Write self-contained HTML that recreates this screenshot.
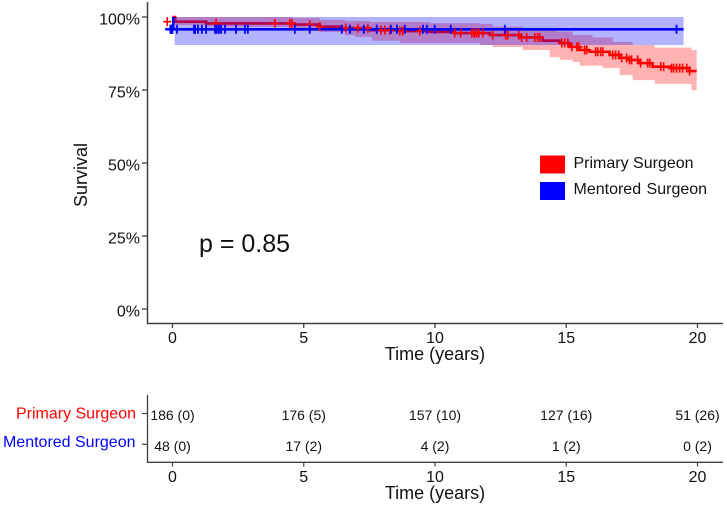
<!DOCTYPE html>
<html>
<head>
<meta charset="utf-8">
<title>Survival chart</title>
<style>
html,body{margin:0;padding:0;background:#fff;width:727px;height:505px;overflow:hidden}
svg{display:block}
text{font-family:"Liberation Sans",sans-serif;fill:#111}
</style>
</head>
<body>
<svg id="chart" width="727" height="505" viewBox="0 0 727 505" xmlns="http://www.w3.org/2000/svg"></svg>
<script>
// ---- Data ----
const xTicks = [0, 5, 10, 15, 20];
const yTicks = [0, 25, 50, 75, 100];
const primaryLabel = "Primary Surgeon";
const mentoredLabel = "Mentored Surgeon";
const pValueLabel = "p = 0.85";

const primaryTimes = [0, 0.1, 1.28, 4.66, 5.61, 6.38, 7.52, 8.66, 9.8, 10.75, 12.09, 13.23, 14.1, 14.75, 15.13, 15.51, 15.89, 16.65, 17.03, 17.41, 17.8, 18.29, 18.94, 19.7, 19.97];
const primarySurvival = [100, 98.4, 97.8, 97.4, 96.7, 96.2, 95.5, 95.2, 94.9, 94.5, 93.8, 93, 91.9, 91.1, 89.8, 88.7, 88.1, 87, 86, 85.3, 84.2, 83, 82.5, 81.5, 81.5];

const primaryBandTimes = [0.1, 1.28, 4.59, 5.61, 6.57, 6.95, 7.52, 7.6, 8.66, 9.8, 11.71, 12.2, 13.34, 14.37, 14.64, 14.75, 15.24, 15.51, 16, 16.39, 16.77, 17.03, 17.53, 18.37, 19.77, 19.97];
const primaryBandUpper = [100, 100, 99.7, 99, 98.6, 98.6, 98.3, 98.3, 98.3, 97.9, 97.6, 96.7, 95.9, 95.9, 95, 95, 93.8, 93.8, 93, 93, 91.5, 91.5, 90.4, 89.5, 88.7, 88.7];
const primaryBandLower = [97.3, 96.6, 96.2, 94.9, 93.8, 93.2, 93.2, 91.9, 91.1, 91.1, 90.4, 89.7, 88.7, 86.3, 86.3, 85.3, 84.6, 83.3, 83.3, 82.5, 82.5, 80.1, 78.4, 77.1, 75, 75];

const primaryCensorTimes = [-0.2, 1.66, 3.9, 4.47, 4.55, 5.23, 5.61, 6.6, 7.06, 7.44, 7.94, 8.09, 8.28, 8.66, 8.77, 9.42, 10.75, 10.98, 11.4, 11.48, 11.51, 11.59, 11.67, 11.82, 12.2, 12.69, 12.77, 13.19, 13.3, 13.49, 13.8, 13.91, 13.99, 14.83, 14.94, 15.06, 15.21, 15.4, 15.47, 15.7, 15.78, 16.12, 16.2, 16.31, 16.39, 16.77, 16.88, 17, 17.11, 17.3, 17.41, 17.49, 17.72, 17.83, 18.1, 18.18, 18.6, 18.71, 19.01, 19.09, 19.2, 19.32, 19.43, 19.59, 19.7];

const mentoredTimes = [0.03, 0.03, 19.47];
const mentoredSurvival = [100, 95.8, 95.8];
const mentoredBandTimes = [0.08, 19.47];
const mentoredBandUpper = [100, 100];
const mentoredBandLower = [90.4, 90.4];
const mentoredCensorTimes = [-0.08, -0.06, -0.04, -0.02, 0, 0.17, 0.82, 0.86, 0.97, 1.12, 1.28, 1.62, 1.69, 1.77, 1.85, 2, 2.42, 2.76, 2.87, 4.66, 5.23, 6.45, 6.76, 7.29, 7.78, 8.32, 8.55, 8.85, 9.54, 9.69, 9.99, 10.6, 12.66, 19.2];

const primaryAtRisk = ["186 (0)", "176 (5)", "157 (10)", "127 (16)", "51 (26)"];
const mentoredAtRisk = ["48 (0)", "17 (2)", "4 (2)", "1 (2)", "0 (2)"];

// ---- Axis functions ----
const xScale = t => 172.5 + t * 26.25;
const yScale = s => 309 - s * 2.92;

const NS = "http://www.w3.org/2000/svg";
const svg = document.getElementById("chart");
function make(tag, attrs, text) {
  const el = document.createElementNS(NS, tag);
  for (const k in attrs) el.setAttribute(k, attrs[k]);
  if (text !== undefined) el.textContent = text;
  svg.appendChild(el);
  return el;
}
function stepPath(times, values) {
  let d = "M" + xScale(times[0]) + " " + yScale(values[0]);
  for (let i = 1; i < times.length; i++) {
    d += "H" + xScale(times[i]) + "V" + yScale(values[i]);
  }
  return d;
}
function bandPath(times, upper, lower) {
  const n = times.length;
  let d = "M" + xScale(times[0]) + " " + yScale(upper[0]);
  for (let i = 1; i < n - 1; i++) {
    d += "H" + xScale(times[i]) + "V" + yScale(upper[i]);
  }
  d += "H" + xScale(times[n - 1]);
  for (let i = n - 2; i >= 0; i--) {
    d += "V" + yScale(lower[i]) + "H" + xScale(times[i]);
  }
  d += "Z";
  return d;
}
function survivalAt(times, values, t) {
  let s = values[0];
  for (let i = 0; i < times.length; i++) {
    if (times[i] <= t) s = values[i];
  }
  return s;
}
const axisColor = "#404040";

// ---- Bands and curves (blue layer overlays the red line, as in the reference) ----
const primaryBand = make("path", {d: bandPath(primaryBandTimes, primaryBandUpper, primaryBandLower), fill: "#ff0000", "fill-opacity": 0.3});



const primaryLine = make("path", {d: stepPath(primaryTimes, primarySurvival), fill: "none", stroke: "#ff0000", "stroke-width": 2.6});



const mentoredBand = make("path", {d: bandPath(mentoredBandTimes, mentoredBandUpper, mentoredBandLower), fill: "#0000ff", "fill-opacity": 0.3});



const mentoredLine = make("path", {d: stepPath(mentoredTimes, mentoredSurvival), fill: "none", stroke: "#0000ff", "stroke-width": 2.6});



const mentoredLead = make("line", {x1: xScale(-0.28), x2: xScale(0.03), y1: yScale(mentoredSurvival[1]), y2: yScale(mentoredSurvival[1]), stroke: "#0000ff", "stroke-width": 2.6});



// ---- Censor marks ----
primaryCensorTimes.forEach(t => {
  const x = xScale(t);
  const s = t < 0 ? primarySurvival[1] : survivalAt(primaryTimes, primarySurvival, t);
  const y = yScale(s);
  const d = "M" + x + " " + (y - 4.5) + "V" + (y + 4.5) + "M" + (x - 4) + " " + y + "H" + (x + 4);
  const mark = make("path", {d: d, stroke: "#ff0000", "stroke-width": 1.6, fill: "none"});
  
  
});
mentoredCensorTimes.forEach(t => {
  const x = xScale(t);
  const y = yScale(mentoredSurvival[1]);
  const d = "M" + x + " " + (y - 4.5) + "V" + (y + 4.5);
  const mark = make("path", {d: d, stroke: "#0000ff", "stroke-width": 1.8, fill: "none"});
  
  
});

// ---- Main axes ----
const mainYAxis = make("line", {x1: 147.5, x2: 147.5, y1: 2, y2: 324, stroke: axisColor, "stroke-width": 1.5});


const mainXAxis = make("line", {x1: 147, x2: 723, y1: 323.5, y2: 323.5, stroke: axisColor, "stroke-width": 1.5});



yTicks.forEach(v => {
  const y = yScale(v);
  const tick = make("line", {x1: 142, x2: 147, y1: y, y2: y, stroke: axisColor, "stroke-width": 1.3});
  
  
  const label = make("text", {x: 140, y: y + 7.5, "text-anchor": "end", "font-size": 16}, v + "%");
  
  
});
xTicks.forEach(v => {
  const x = xScale(v);
  const tick = make("line", {x1: x, x2: x, y1: 324, y2: 328, stroke: axisColor, "stroke-width": 1.3});
  
  
  const label = make("text", {x: x, y: 343, "text-anchor": "middle", "font-size": 16}, String(v));
  
  
});

const xTitle = make("text", {x: 435, y: 360, "text-anchor": "middle", "font-size": 18}, "Time (years)");


const yTitle = make("text", {x: 0, y: 0, transform: "translate(87 175) rotate(-90)", "text-anchor": "middle", "font-size": 18}, "Survival");


const pValue = make("text", {x: 199, y: 252, "font-size": 25}, pValueLabel);



// ---- Legend ----
const legendPrimarySwatch = make("rect", {x: 540, y: 155.5, width: 25, height: 18, fill: "#ff0000"});


const legendPrimaryText = make("text", {x: 573.5, y: 168, "font-size": 16}, primaryLabel);


const legendMentoredSwatch = make("rect", {x: 540, y: 182, width: 25, height: 18, fill: "#0000ff"});


const legendMentoredText = make("text", {x: 573.5, y: 194, "font-size": 16, "word-spacing": 1}, mentoredLabel);



// ---- Risk table ----
const tableYAxis = make("line", {x1: 147.5, x2: 147.5, y1: 395, y2: 463, stroke: axisColor, "stroke-width": 1.3});


const tableXAxis = make("line", {x1: 147, x2: 723, y1: 462.3, y2: 462.3, stroke: axisColor, "stroke-width": 1.3});



const tablePrimaryTick = make("line", {x1: 142, x2: 147, y1: 413.5, y2: 413.5, stroke: axisColor, "stroke-width": 1.2});


const tableMentoredTick = make("line", {x1: 142, x2: 147, y1: 444.3, y2: 444.3, stroke: axisColor, "stroke-width": 1.2});



const tablePrimaryLabel = make("text", {x: 136, y: 418.5, "text-anchor": "end", "font-size": 16, style: "fill:#ff0000"}, primaryLabel);


const tableMentoredLabel = make("text", {x: 135.5, y: 447, "text-anchor": "end", "font-size": 16, style: "fill:#0000ff"}, mentoredLabel);



xTicks.forEach((v, i) => {
  const x = xScale(v);
  const a = make("text", {x: x, y: 420, "text-anchor": "middle", "font-size": 14}, primaryAtRisk[i]);
  
  
  const b = make("text", {x: x, y: 451, "text-anchor": "middle", "font-size": 14}, mentoredAtRisk[i]);
  
  
  const tick = make("line", {x1: x, x2: x, y1: 463, y2: 466.5, stroke: axisColor, "stroke-width": 1.2});
  
  
  const label = make("text", {x: x, y: 482, "text-anchor": "middle", "font-size": 16}, String(v));
  
  
});
const tableTitle = make("text", {x: 435, y: 499, "text-anchor": "middle", "font-size": 18}, "Time (years)");


</script>
</body>
</html>
